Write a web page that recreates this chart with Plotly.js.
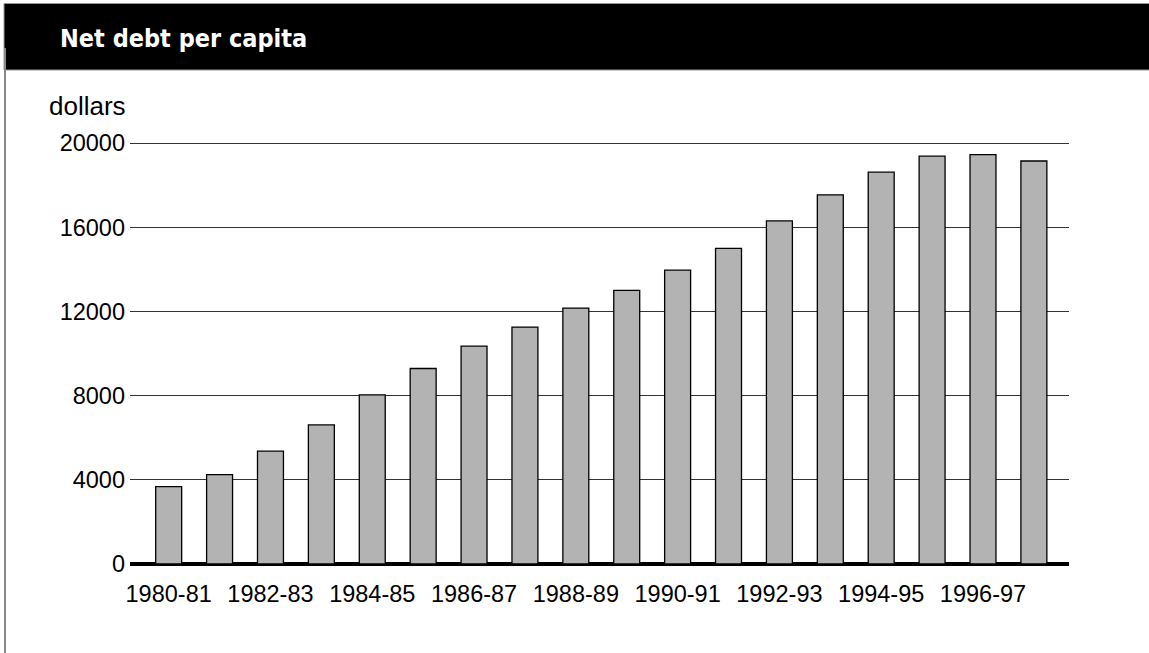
<!DOCTYPE html>
<html>
<head>
<meta charset="utf-8">
<script src="https://cdn.plot.ly/plotly-3.0.1.min.js"></script>
<style>
html,body{margin:0;padding:0;background:#fff;}
#chart{width:1149px;height:653px;}
</style>
</head>
<body>
<div id="chart"></div>
<script>
const categories = ["1980-81","1981-82","1982-83","1983-84","1984-85","1985-86","1986-87","1987-88","1988-89","1989-90","1990-91","1991-92","1992-93","1993-94","1994-95","1995-96","1996-97","1997-98"];
const netDebt = [3680, 4250, 5360, 6610, 8040, 9290, 10350, 11260, 12160, 13000, 13960, 15000, 16300, 17540, 18620, 19380, 19450, 19150];
const tickLabels = ["1980-81","1982-83","1984-85","1986-87","1988-89","1990-91","1992-93","1994-95","1996-97"];
const yTicks = [0, 4000, 8000, 12000, 16000, 20000];

const W = 1149, H = 653;
const L = 130, R = 80, T = 141, B = 89;
const pw = W - L - R, ph = H - T - B;
const px = v => (v - L) / pw;
const py = v => (H - B - v) / ph;

const trace = {
  type: 'bar',
  x: categories,
  y: netDebt,
  marker: {color: '#b3b3b3', line: {color: '#000', width: 1.3}},
  hoverinfo: 'x+y'
};

const layout = {
  width: W, height: H,
  margin: {l: L, r: R, t: T, b: B, pad: 0},
  paper_bgcolor: '#fff', plot_bgcolor: '#fff',
  font: {family: 'Liberation Sans, Arial, sans-serif', size: 23.5, color: '#000'},
  showlegend: false,
  bargap: 0.49,
  title: {
    text: 'Net debt per capita',
    font: {family: 'DejaVu Sans Condensed, DejaVu Sans, sans-serif', size: 25, color: '#fff', weight: 'bold'},
    x: 60 / W, xanchor: 'left', xref: 'container',
    y: 1 - 38 / H, yanchor: 'middle', yref: 'container'
  },
  xaxis: {
    type: 'category',
    range: [-0.76, 17.69],
    tickmode: 'array',
    tickvals: tickLabels,
    ticktext: tickLabels,
    showgrid: false, zeroline: false, showline: false,
    ticks: '', ticklabelstandoff: 13,
    tickfont: {size: 23.5}
  },
  yaxis: {
    range: [0, 20100],
    tickmode: 'array',
    tickvals: yTicks,
    ticktext: yTicks.map(String),
    showgrid: true, gridcolor: '#333', gridwidth: 1,
    zeroline: true, zerolinecolor: '#000', zerolinewidth: 4,
    showline: false, ticks: '', ticklabelstandoff: 4,
    tickfont: {size: 23.5}
  },
  shapes: [
    {type: 'rect', xref: 'paper', yref: 'paper', layer: 'below',
     x0: px(4), x1: px(1150), y0: py(70), y1: py(3.5),
     fillcolor: '#000', line: {color: '#999', width: 1}},
    {type: 'line', xref: 'paper', yref: 'paper', layer: 'below',
     x0: px(5), x1: px(5), y0: py(48), y1: py(660),
     line: {color: '#888', width: 2}}
  ],
  annotations: [
    {text: 'dollars', xref: 'paper', yref: 'paper', x: px(47), y: py(106),
     xanchor: 'left', yanchor: 'middle', showarrow: false, font: {size: 26, color: '#000'}}
  ]
};

Plotly.newPlot('chart', [trace], layout, {displayModeBar: false, staticPlot: true});
</script>
</body>
</html>
